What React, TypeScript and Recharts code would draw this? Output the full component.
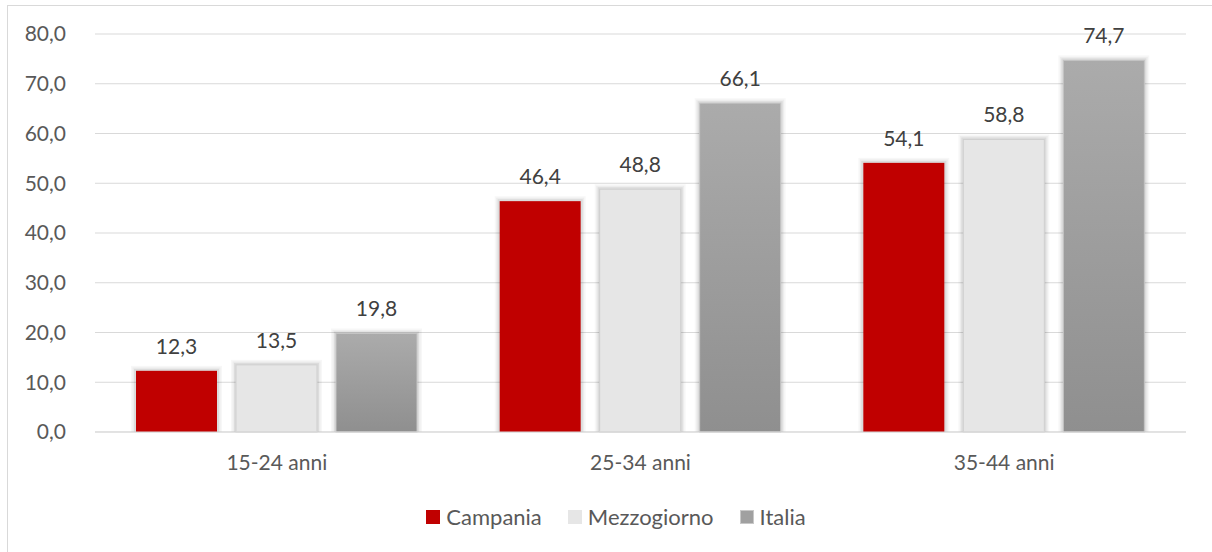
import { BarChart, Bar, XAxis, YAxis, CartesianGrid, LabelList, Legend } from "recharts";

const categories = ["15-24 anni", "25-34 anni", "35-44 anni"];
const campania = [12.3, 46.4, 54.1];
const mezzogiorno = [13.5, 48.8, 58.8];
const italia = [19.8, 66.1, 74.7];
const yTicks = [0, 10, 20, 30, 40, 50, 60, 70, 80];

const data = categories.map((cat, i) => ({
  cat,
  Campania: campania[i],
  Mezzogiorno: mezzogiorno[i],
  Italia: italia[i],
}));

const FONT = "Lato, 'Open Sans', sans-serif";
const FS = 21;
const TEXT = "#595959";

const fmt = (v: any) => Number(v).toFixed(1).replace(".", ",");

// bar with a soft grey glow like the Excel original
function GlowBar(props: any) {
  const { x, y, width, height, fill, stroke } = props;
  if (!height || height <= 0) return null;
  return (
    <g>
      <rect x={x - 5} y={y - 5} width={width + 10} height={height + 5} fill="#000" fillOpacity={0.03} />
      <rect x={x - 3.5} y={y - 3.5} width={width + 7} height={height + 3.5} fill="#000" fillOpacity={0.04} />
      <rect x={x - 2} y={y - 2} width={width + 4} height={height + 2} fill="#000" fillOpacity={0.07} />
      <rect x={x} y={y} width={width} height={height} fill={fill} stroke={stroke} strokeWidth={stroke ? 1 : 0} />
    </g>
  );
}

const legendItems = [
  { name: "Campania", color: "#c00000", border: "none" },
  { name: "Mezzogiorno", color: "#e6e6e6", border: "none" },
  { name: "Italia", color: "#a0a0a0", border: "1px solid #c8c8c8" },
];

function MyLegend() {
  return (
    <div style={{ display: "flex", justifyContent: "center", gap: 26, fontFamily: FONT, fontSize: 22, color: TEXT, lineHeight: "26px" }}>
      {legendItems.map((it) => (
        <div key={it.name} style={{ display: "flex", alignItems: "center", gap: 6 }}>
          <span style={{ display: "inline-block", width: 14, height: 14, background: it.color, border: it.border, boxSizing: "border-box" }} />
          <span>{it.name}</span>
        </div>
      ))}
    </div>
  );
}

export default function App() {
  return (
    <div style={{ position: "absolute", left: 0, top: 0, width: 1212, height: 552, background: "#fff" }}>
      <div style={{ position: "absolute", left: 7, top: 5, width: 1205, height: 547, borderLeft: "1px solid #d9d9d9", borderTop: "1px solid #d9d9d9" }} />
      <BarChart
        width={1212}
        height={552}
        data={data}
        margin={{ top: 34, right: 26, left: 0, bottom: 34 }}
        barSize={81}
        barGap={19}
        style={{ position: "absolute", left: 0, top: 0 }}
      >
        <defs>
          <linearGradient id="gItalia" x1="0" y1="0" x2="0" y2="1">
            <stop offset="0%" stopColor="#ababab" />
            <stop offset="100%" stopColor="#8f8f8f" />
          </linearGradient>
        </defs>
        <CartesianGrid vertical={false} stroke="#d9d9d9" strokeWidth={1} />
        <XAxis
          dataKey="cat"
          axisLine={{ stroke: "#d9d9d9" }}
          tickLine={false}
          tickSize={10}
          tickMargin={13}
          height={60}
          tick={{ fontFamily: FONT, fontSize: FS, fill: TEXT }}
        />
        <YAxis
          domain={[0, 80]}
          ticks={yTicks}
          width={95}
          axisLine={false}
          tickLine={false}
          tickSize={20}
          tickMargin={9}
          tickFormatter={fmt}
          tick={{ fontFamily: FONT, fontSize: FS, fill: TEXT }}
        />
        <Legend
          verticalAlign="bottom"
          content={() => <MyLegend />}
          wrapperStyle={{ top: 504, left: 20, width: 1192, bottom: "auto", height: 26 }}
        />
        <Bar dataKey="Campania" fill="#c00000" shape={<GlowBar />} isAnimationActive={false}>
          <LabelList dataKey="Campania" position="top" offset={17} formatter={fmt} style={{ fontFamily: FONT, fontSize: FS, fill: "#404040" }} />
        </Bar>
        <Bar dataKey="Mezzogiorno" fill="#e6e6e6" shape={<GlowBar stroke="#cfcfcf" />} isAnimationActive={false}>
          <LabelList dataKey="Mezzogiorno" position="top" offset={17} formatter={fmt} style={{ fontFamily: FONT, fontSize: FS, fill: "#404040" }} />
        </Bar>
        <Bar dataKey="Italia" fill="url(#gItalia)" shape={<GlowBar stroke="#c4c4c4" />} isAnimationActive={false}>
          <LabelList dataKey="Italia" position="top" offset={17} formatter={fmt} style={{ fontFamily: FONT, fontSize: FS, fill: "#404040" }} />
        </Bar>
      </BarChart>
    </div>
  );
}
